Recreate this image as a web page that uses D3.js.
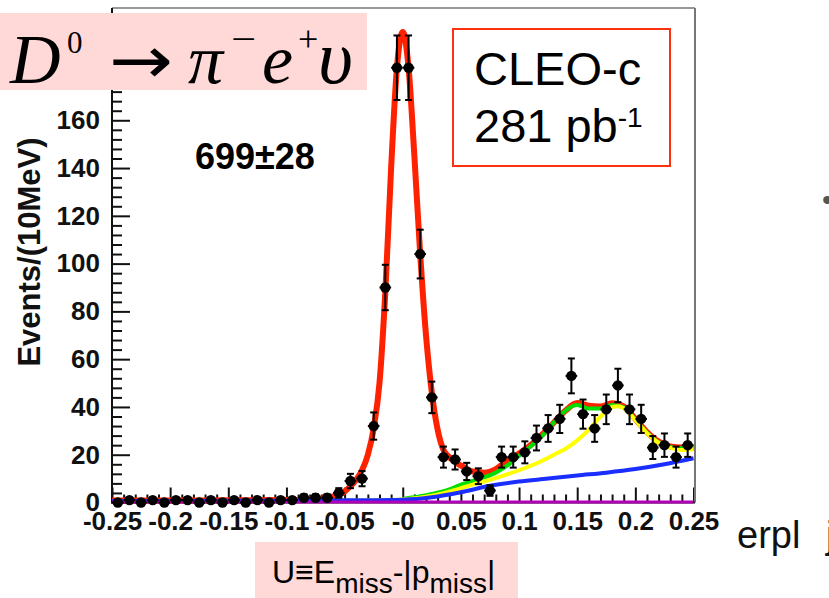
<!DOCTYPE html>
<html><head><meta charset="utf-8">
<script src="https://cdn.jsdelivr.net/npm/d3@7"></script>
<style>
  body { margin: 0; background: #fff; }
  svg { display: block; }
</style>
</head><body>
<svg id="chart" width="829" height="598"></svg>
<script>
// U = E_miss - |p_miss| bin centres (GeV), 10 MeV bins
const binCenters = [-0.245,-0.235,-0.225,-0.215,-0.205,-0.195,-0.185,-0.175,-0.165,-0.155,
  -0.145,-0.135,-0.125,-0.115,-0.105,-0.095,-0.085,-0.075,-0.065,-0.055,
  -0.045,-0.035,-0.025,-0.015,-0.005,0.005,0.015,0.025,0.035,0.045,
  0.055,0.065,0.075,0.085,0.095,0.105,0.115,0.125,0.135,0.145,
  0.155,0.165,0.175,0.185,0.195,0.205,0.215,0.225,0.235,0.245];
// events per bin
const counts = [0,1,0,1,0,1,1,0,1,0,
  1,0,1,0,1,1,2,2,2,4,
  9,10,32,90,182,182,104,44,19,18,
  13,11,5,19,19,21,27,31,35,53,
  37,31,39,49,39,35,23,24,19,24];
// statistical uncertainty per bin
const countErrors = [0,1,0,1,0,1,1,0,1,0,
  1,0,1,0,1,1,1.4,1.4,1.4,2,
  3,3.2,5.7,9.5,13.5,13.5,10.2,6.6,4.4,4.2,
  3.6,3.3,2.2,4.4,4.4,4.6,5.2,5.6,5.9,7.3,
  6.1,5.6,6.2,7,6.2,5.9,4.8,4.9,4.4,4.9];

// total fit (signal + all backgrounds)
const totalFitU = [-0.25,-0.2,-0.15,-0.1,-0.08,-0.07,-0.06,-0.055,-0.05,-0.045,-0.04,-0.035,-0.03,-0.025,
  -0.02,-0.015,-0.01,-0.005,0,0.005,0.01,0.015,0.02,0.025,0.03,0.035,0.04,0.045,0.05,0.055,0.06,
  0.07,0.08,0.09,0.1,0.11,0.12,0.13,0.14,0.15,0.16,0.17,0.18,0.19,0.2,0.21,0.22,0.23,0.24,0.25];
const totalFitV = [0.8,0.8,0.9,1.0,1.3,1.7,2.5,3.2,4.6,6.8,9.5,13.5,20,31,
  50,88,140,182,197,182,145,104,70,46,30.5,22,19,17,15.5,14,13,
  12.5,14,17.5,20.5,24,28.5,33.5,38.5,41.6,40.5,40.2,41.5,40.2,35,29.5,25.5,23.5,23,23];

// sum of background components
const bkgSumU = [0,0.02,0.04,0.05,0.06,0.07,0.08,0.09,0.1,0.11,0.12,0.13,0.14,0.15,0.16,0.17,0.18,0.19,0.2,0.21,0.22,0.23,0.24,0.25];
const bkgSumV = [1.5,3,5.5,7.5,9,10.5,12.5,15.5,19.5,23.5,28,33.5,38.5,40.8,39.3,39.3,40.8,39.8,34.7,29.2,25.2,23.3,22.7,22.8];

// peaking background component (plus smooth background)
const peakBkgU = [-0.05,0,0.025,0.05,0.06,0.075,0.1,0.12,0.13,0.14,0.15,0.16,0.17,0.18,0.185,0.19,0.2,0.21,0.22,0.23,0.24,0.25];
const peakBkgV = [0.8,1.3,2.8,6,7.5,9.5,13.5,17.5,20,22.5,26,30.5,36,40,40.3,39.5,34.5,29,25,23,22,22.3];

// smooth background
const smoothBkgU = [-0.25,-0.2,-0.15,-0.1,-0.05,0,0.025,0.05,0.075,0.1,0.125,0.15,0.175,0.2,0.225,0.25];
const smoothBkgV = [0.6,0.6,0.7,0.7,0.9,1.2,2.2,4.3,7,8.8,10,11.3,12.5,14,16,18.5];

// flat component
const flatBkgU = [-0.25, 0.25];
const flatBkgV = [0.2, 0.2];

const xTickValues = [-0.25,-0.2,-0.15,-0.1,-0.05,0,0.05,0.1,0.15,0.2,0.25];
const xTickLabels = ["-0.25","-0.2","-0.15","-0.1","-0.05","-0","0.05","0.1","0.15","0.2","0.25"];
const yTickValues = [0,20,40,60,80,100,120,140,160,180,200];
const yTickLabels = ["0","20","40","60","80","100","120","140","160","180","200"];

const svg = d3.select("#chart");
const plotL = 112, plotR = 695, plotT = 8, plotB = 502.5;

const x = d3.scaleLinear().domain([-0.25, 0.25]).range([112, 693.5]);
const y = d3.scaleLinear().domain([0, 207]).range([plotB, plotT]);

const sansBold = "'Liberation Sans', Arial, Helvetica, sans-serif";

// clip for plotted curves
svg.append("defs").append("clipPath").attr("id", "plotClip")
  .append("rect").attr("x", plotL).attr("y", plotT).attr("width", plotR - plotL).attr("height", plotB - plotT + 3);

// ---- axes ----
const xMinor = d3.range(-0.25, 0.2501, 0.01).map(v => Math.round(v * 100) / 100)
  .filter(v => !xTickValues.some(t => Math.abs(t - v) < 1e-6));
const yMinor = d3.range(0, 207, 4).filter(v => v % 20 !== 0);

const xAxisMinor = d3.axisBottom(x).tickValues(xMinor).tickSizeInner(-8).tickSizeOuter(0).tickFormat("");
const xAxis = d3.axisBottom(x).tickValues(xTickValues).tickSizeInner(-15).tickSizeOuter(0)
  .tickPadding(9).tickFormat((d, i) => xTickLabels[i]);
const yAxisMinor = d3.axisLeft(y).tickValues(yMinor).tickSizeInner(-10).tickSizeOuter(0).tickFormat("");
const yAxis = d3.axisLeft(y).tickValues(yTickValues).tickSizeInner(-18).tickSizeOuter(0)
  .tickPadding(12).tickFormat((d, i) => yTickLabels[i]);

function styleAxis(sel) {
  sel.select(".domain").remove();
  sel.selectAll(".tick line").attr("stroke", "#111").attr("stroke-width", 2);
  sel.selectAll(".tick text").attr("font-family", sansBold).attr("font-weight", "bold")
    .attr("font-size", 26).attr("fill", "#111");
}
svg.append("g").attr("transform", `translate(0,${plotB})`).call(xAxisMinor).call(styleAxis);
svg.append("g").attr("transform", `translate(0,${plotB})`).call(xAxis).call(styleAxis);
svg.append("g").attr("transform", `translate(${plotL},0)`).call(yAxisMinor).call(styleAxis);
svg.append("g").attr("transform", `translate(${plotL},0)`).call(yAxis).call(styleAxis);

// frame
svg.append("line").attr("x1", plotL).attr("x2", plotR).attr("y1", plotT).attr("y2", plotT)
  .attr("stroke", "#999").attr("stroke-width", 2);
svg.append("line").attr("x1", plotR).attr("x2", plotR).attr("y1", plotT).attr("y2", plotB)
  .attr("stroke", "#777").attr("stroke-width", 2);
svg.append("line").attr("x1", plotL).attr("x2", plotL).attr("y1", plotT).attr("y2", plotB + 1)
  .attr("stroke", "#111").attr("stroke-width", 2);
svg.append("line").attr("x1", plotL - 1).attr("x2", plotR).attr("y1", plotB).attr("y2", plotB)
  .attr("stroke", "#111").attr("stroke-width", 2);

// y title
svg.append("text").attr("transform", "translate(40,252) rotate(-90)")
  .attr("text-anchor", "middle").attr("font-family", sansBold).attr("font-weight", "bold")
  .attr("font-size", 31).attr("fill", "#111").text("Events/(10MeV)");

// ---- fit curves ----
const plot = svg.append("g").attr("clip-path", "url(#plotClip)");
const line = d3.line().x(d => x(d[0])).y(d => y(d[1])).curve(d3.curveMonotoneX);
function drawCurve(us, vs, color, width) {
  plot.append("path").datum(d3.zip(us, vs)).attr("d", line)
    .attr("fill", "none").attr("stroke", color).attr("stroke-width", width)
    .attr("stroke-linejoin", "round");
}
drawCurve(totalFitU, totalFitV, "#ff2200", 6);
drawCurve(bkgSumU, bkgSumV, "#00dd00", 4);
drawCurve(peakBkgU, peakBkgV, "#ffff00", 4);
drawCurve(smoothBkgU, smoothBkgV, "#1a2eff", 4);
drawCurve(flatBkgU, flatBkgV, "#b000b8", 3);

// ---- data points with error bars ----
const halfBin = 0.005;
const pts = svg.append("g");
binCenters.forEach((u, i) => {
  const v = counts[i], e = countErrors[i];
  const cx = x(u), cy = y(v);
  pts.append("line").attr("x1", x(u - halfBin)).attr("x2", x(u + halfBin))
    .attr("y1", cy).attr("y2", cy).attr("stroke", "#000").attr("stroke-width", 2);
  if (e > 0) {
    const y0 = y(v - e), y1 = y(v + e);
    pts.append("line").attr("x1", cx).attr("x2", cx).attr("y1", y0).attr("y2", y1)
      .attr("stroke", "#000").attr("stroke-width", 2);
    [y0, y1].forEach(yy => pts.append("line").attr("x1", cx - 3.5).attr("x2", cx + 3.5)
      .attr("y1", yy).attr("y2", yy).attr("stroke", "#000").attr("stroke-width", 2));
  }
  pts.append("circle").attr("cx", cx).attr("cy", cy).attr("r", 5.2).attr("fill", "#000");
});

// yield
svg.append("text").attr("x", 195).attr("y", 169).attr("font-family", sansBold)
  .attr("font-weight", "bold").attr("font-size", 36).attr("fill", "#000").text("699±28");

// ---- decay title ----
svg.append("rect").attr("x", 0).attr("y", 13).attr("width", 367).attr("height", 77).attr("fill", "#ffd8d8");
const serif = "'Liberation Serif', 'Times New Roman', serif";
const titleParts = [
  { t: "D", x: 10, y: 83, s: 70, it: true },
  { t: "0", x: 67, y: 53, s: 31, it: false },
  { t: "→", x: 109, y: 83, s: 66, it: false, len: 64, f: "'DejaVu Sans', sans-serif" },
  { t: "π", x: 188, y: 83, s: 70, it: true },
  { t: "−", x: 231, y: 51, s: 36, it: false, len: 25 },
  { t: "e", x: 262, y: 83, s: 70, it: true },
  { t: "+", x: 298, y: 51, s: 36, it: false },
  { t: "υ", x: 318, y: 83, s: 76, it: true }
];
titleParts.forEach(p => {
  const t = svg.append("text").attr("x", p.x).attr("y", p.y).attr("font-family", p.f || serif)
    .attr("font-size", p.s).attr("font-style", p.it ? "italic" : "normal").attr("fill", "#000").text(p.t);
  if (p.len) t.attr("textLength", p.len).attr("lengthAdjust", "spacingAndGlyphs");
});

// ---- experiment box ----
const sans = "'Liberation Sans', Arial, Helvetica, sans-serif";
svg.append("rect").attr("x", 453).attr("y", 29).attr("width", 217).attr("height", 137)
  .attr("fill", "#fff").attr("stroke", "#ff3010").attr("stroke-width", 2);
svg.append("text").attr("x", 474).attr("y", 85).attr("font-family", sans).attr("font-size", 47)
  .attr("fill", "#000").text("CLEO-c");
const lum = svg.append("text").attr("x", 474).attr("y", 142).attr("font-family", sans)
  .attr("font-size", 47).attr("fill", "#000");
lum.append("tspan").text("281 pb");
lum.append("tspan").attr("dy", -15).attr("font-size", 28).text("-1");

// ---- x title ----
svg.append("rect").attr("x", 255).attr("y", 542).attr("width", 263).attr("height", 56).attr("fill", "#ffd8d8");
const xt = svg.append("text").attr("x", 272).attr("y", 583).attr("font-family", sans)
  .attr("font-size", 32).attr("fill", "#000");
xt.append("tspan").text("U≡E");
xt.append("tspan").attr("dy", 10).attr("font-size", 28).text("miss");
xt.append("tspan").attr("dy", -10).text("-|p");
xt.append("tspan").attr("dy", 10).attr("font-size", 28).text("miss");
xt.append("tspan").attr("dy", -10).text("|");

// ---- neighbouring slide text ----
svg.append("text").attr("x", 737).attr("y", 548).attr("font-family", sans).attr("font-size", 38)
  .attr("fill", "#111").text("erpl");
svg.append("text").attr("x", 826).attr("y", 548).attr("font-family", sans).attr("font-size", 38)
  .attr("fill", "#111").text("j");
svg.append("text").attr("x", 822).attr("y", 210).attr("font-family", sans).attr("font-size", 30)
  .attr("fill", "#555").text("•");
</script>
</body></html>
